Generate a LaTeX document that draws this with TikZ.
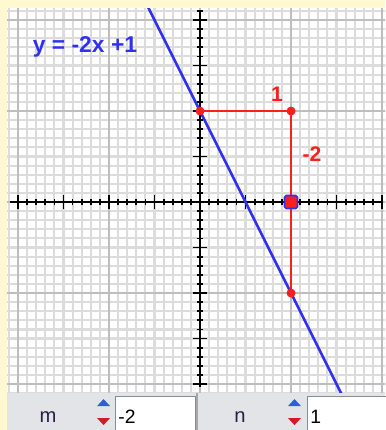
\documentclass[tikz,border=0pt]{standalone}
\usepackage{fontspec}
\setmainfont{Liberation Sans}
\usetikzlibrary{positioning,calc}
\definecolor{paneyellow}{RGB}{255,248,208}
\definecolor{gridminor}{RGB}{220,220,220}
\definecolor{gridmajor}{RGB}{190,190,190}
\definecolor{linecol}{RGB}{48,48,245}
\definecolor{runcol}{RGB}{250,30,30}
\definecolor{barcol}{RGB}{226,228,232}
\definecolor{barfont}{RGB}{45,30,70}
\definecolor{spinup}{RGB}{45,95,215}
\definecolor{spindown}{RGB}{215,25,35}
\newcommand{\spinner}[1]{%
  \fill[spinup] ($(#1)+(-1.3mm,1.2mm)$) -- ($(#1)+(1.3mm,1.2mm)$)
    -- ($(#1)+(0,2.6mm)$) -- cycle;
  \fill[spindown] ($(#1)+(-1.3mm,-1.2mm)$) -- ($(#1)+(1.3mm,-1.2mm)$)
    -- ($(#1)+(0,-2.6mm)$) -- cycle;}
\tikzset{
  axisln/.style={draw=black,line width=1pt},
  fnline/.style={draw=linecol,line width=1.5pt},
  runseg/.style={draw=runcol,line width=1pt},
  slopept/.style={circle,fill=runcol,inner sep=0pt,minimum size=1.8mm},
  handle/.style={rectangle,rounded corners=1pt,fill=runcol,draw=linecol,
                 line width=.9pt,inner sep=0pt,minimum size=2.6mm},
  runlab/.style={text=runcol,anchor=base,font=\bfseries\fontsize{12}{14}\selectfont},
  eqlab/.style={text=linecol,anchor=base,font=\bfseries\fontsize{13}{15}\selectfont},
  barlab/.style={text=barfont,anchor=base,font=\fontsize{11.5}{13}\selectfont},
  valbox/.style={draw=black!45,fill=white,line width=.5pt,anchor=north west,
                 minimum width=16mm,minimum height=7mm,inner sep=0pt},
  valtext/.style={text=black,anchor=base west,inner sep=0pt,
                  font=\fontsize{11}{13}\selectfont},
}

\begin{document}
\begin{tikzpicture}[x=1.82cm,y=1.82cm]
  \useasboundingbox (-2.198,-2.505) rectangle (2.033,2.220);
  \fill[paneyellow] (-2.198,-2.505) rectangle (2.033,2.220);
  % graph panel
  \fill[white] (-2.121,-2.099) rectangle (2.033,2.132);
  \begin{scope}
    \clip (-2.121,-2.099) rectangle (2.033,2.132);
    \draw[gridminor,line width=1.2pt,step=0.1] (-2.2,-2.2) grid (2.1,2.2);
    \draw[gridmajor,line width=1.1pt,step=1] (-3,-3) grid (3,3);
    % axes with ticks
    \draw[axisln] (-2.09,0) -- (2.0,0);
    \draw[axisln] (0,-2.03) -- (0,2.11);
    \foreach \i in {-20,...,20}
      {\draw[axisln] (\i/10,-0.035) -- (\i/10,0.035);}
    \foreach \i in {-20,...,21}
      {\draw[axisln] (-0.035,\i/10) -- (0.035,\i/10);}
    \foreach \i in {-4,...,4}
      {\draw[axisln] (\i/2,-0.08) -- (\i/2,0.08);
       \draw[axisln] (-0.08,\i/2) -- (0.08,\i/2);}
    % y = -2x + 1
    \coordinate (lineTop) at (-0.6,2.2);
    \coordinate (lineBot) at (1.6,-2.2);
    \draw[fnline] (lineTop) -- (lineBot);
  \end{scope}
  % slope triangle
  \node[slopept] (yint) at (0,1) {};
  \node[slopept] (runend) at (1,1) {};
  \node[slopept] (riseend) at (1,-1) {};
  \draw[runseg] (yint.center) -- (runend.center) -- (riseend.center);
  \node[handle] (drag) at (1,0) {};
  \node[runlab] (runtxt) at (0.846,1.106) {1};
  \node[runlab] (risetxt) at (1.231,0.44) {-2};
  \node[eqlab] (eqn) at (-1.264,1.648) {y = -2x +1};
  % control bar
  \fill[barcol] (-2.121,-2.099) rectangle (2.033,-2.505);
  \node[barlab] (mlab) at (-1.670,-2.425) {m};
  \coordinate (mspin) at (-1.060,-2.308);
  \spinner{mspin}
  \node[valbox] (mbox) at (-0.934,-2.132) {};
  \node[valtext] (mval) at (-0.901,-2.429) {-2};
  \draw[black!35,line width=.6pt] (-0.033,-2.099) -- (-0.033,-2.505);
  \node[barlab] (nlab) at (0.440,-2.425) {n};
  \coordinate (nspin) at (1.038,-2.308);
  \spinner{nspin}
  \node[valbox] (nbox) at (1.176,-2.132) {};
  \node[valtext] (nval) at (1.209,-2.429) {1};
\end{tikzpicture}
\end{document}
